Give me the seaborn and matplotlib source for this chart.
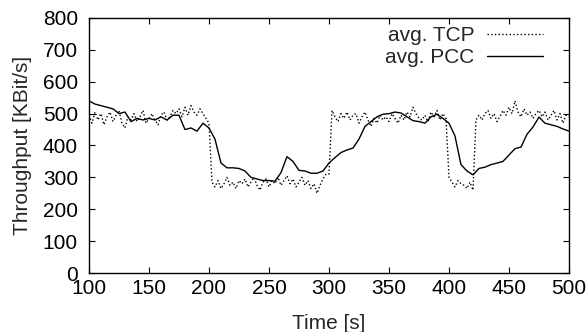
import numpy as np
import pandas as pd
import matplotlib
matplotlib.use('Agg')
import matplotlib.pyplot as plt
import seaborn as sns

# TCP throughput, sampled every 2.5 s from 100 s to 500 s
tcp_time = np.arange(100, 500.1, 2.5)
tcp_values = [
    495, 470, 505, 480, 500, 465, 490, 505, 475, 495,
    510, 470, 455, 490, 480, 500, 475, 490, 510, 470,
    485, 500, 480, 465, 495, 505, 480, 490, 510, 500,
    515, 490, 520, 495, 525, 505, 495, 515, 500, 485,
    470,
    285, 270, 290, 265, 280, 300, 275, 285, 265, 290,
    280, 295, 270, 285, 300, 275, 260, 285, 295, 270,
    290, 280, 300, 275, 290, 305, 280, 295, 270, 285,
    300, 275, 290, 265, 280, 250, 275, 295, 310,
    310,
    510, 490, 475, 500, 485, 505, 480, 495, 500, 470,
    490, 505, 480, 460, 485, 470, 495, 480, 490, 475,
    500, 485, 470, 495, 480, 505, 490, 520, 500, 485,
    480, 495, 475, 505, 490, 510, 480, 500, 485,
    300, 285, 270, 290, 280, 275, 265, 285, 260,
    480,
    495, 480, 500, 510, 485, 500, 475, 490, 510, 495,
    520, 500, 540, 505, 490, 515, 495, 505, 485, 500,
    510, 490, 505, 480, 495, 510, 480, 500, 470, 495,
    490,
]

# PCC throughput, sampled every 5 s from 100 s to 500 s
pcc_time = np.arange(100, 500.1, 5)
pcc_values = [
    540, 530, 525, 520, 515, 500, 505, 475, 485, 480,
    485, 480, 490, 480, 495, 495, 450, 455, 445, 470,
    455, 420, 345, 330, 330, 328, 320, 300, 295, 290,
    290, 288, 315, 365, 350, 322, 320, 313, 313, 320,
    345, 362, 378, 386, 392, 420, 460, 475, 490, 498,
    500, 505, 502, 490, 478, 475, 470, 490, 498, 485,
    470, 430, 340, 320, 308, 328, 332, 340, 345, 350,
    370, 390, 395, 435, 458, 489, 470, 465, 460, 452,
    445,
]

tcp = pd.DataFrame({'Time': tcp_time, 'Throughput': tcp_values})
pcc = pd.DataFrame({'Time': pcc_time, 'Throughput': pcc_values})

sns.set_style('ticks')
plt.rcParams['font.family'] = ['Liberation Sans', 'DejaVu Sans']
FS = 15

fig = plt.figure(figsize=(5.87, 3.32), dpi=100)
ax = fig.add_axes([0.1516, 0.1777, 0.8177, 0.7681])

sns.lineplot(data=tcp, x='Time', y='Throughput', ax=ax, color='black',
             linewidth=1.0, linestyle=':', label='avg. TCP')
sns.lineplot(data=pcc, x='Time', y='Throughput', ax=ax, color='black',
             linewidth=1.0, label='avg. PCC')

ax.set_xlim(100, 500)
ax.set_ylim(0, 800)
ax.set_xticks(np.arange(100, 501, 50))
ax.set_yticks(np.arange(0, 801, 100))
ax.set_xlabel('Time [s]', fontsize=FS, labelpad=12)
ax.set_ylabel('Throughput [KBit/s]', fontsize=FS, labelpad=8)
ax.tick_params(direction='in', length=4, width=0.8, top=True, right=True,
               labelsize=FS, colors='black')
ax.tick_params(axis='x', pad=4)
ax.tick_params(axis='y', pad=8)
for s in ax.spines.values():
    s.set_color('black')
    s.set_linewidth(1.0)

ax.legend(loc='upper right', bbox_to_anchor=(0.963, 1.0), borderaxespad=0,
          frameon=False, markerfirst=False, handlelength=2.7,
          handletextpad=0.6, labelspacing=0.15, fontsize=FS)

fig.savefig('out.png', dpi=100)
